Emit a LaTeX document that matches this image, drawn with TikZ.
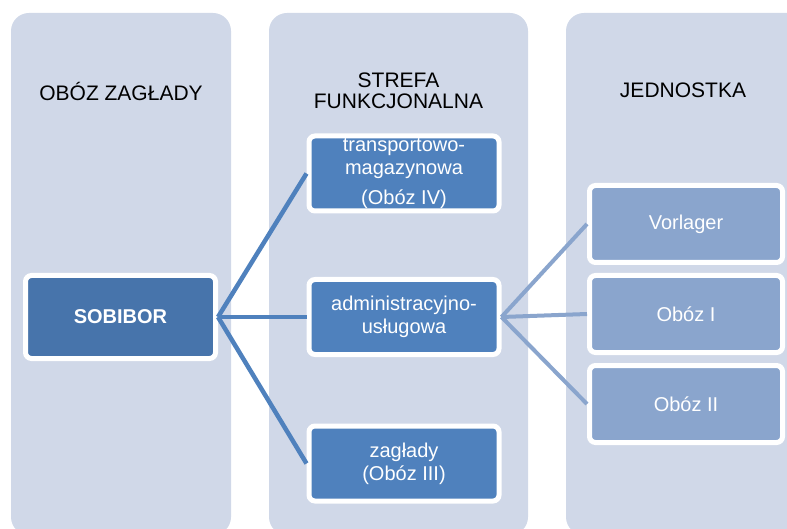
\documentclass[tikz,border=0pt]{standalone}
\usepackage{fontspec}
\setmainfont{Liberation Sans}
\usepackage{xcolor}
\usepackage{tikz}
\usetikzlibrary{positioning}

\definecolor{colbg}{HTML}{D0D8E8}
\definecolor{topblue}{HTML}{4774AB}
\definecolor{midblue}{HTML}{4F81BD}
\definecolor{lowblue}{HTML}{8AA5CD}

\begin{document}
\begin{tikzpicture}[
  x=1pt, y=-1pt,
  node distance=8pt,
  column/.style={fill=colbg, rounded corners=18pt},
  title/.style={align=center, text=black, font=\fontsize{21}{21}\selectfont},
  box/.style={rectangle, draw=white, line width=5pt, rounded corners=6pt,
              align=center, text=white, inner sep=0pt,
              font=\fontsize{20}{23}\selectfont},
  camp/.style={box, fill=topblue, minimum width=190pt, minimum height=83pt,
               font=\fontsize{20}{23}\selectfont\bfseries},
  zone/.style={box, fill=midblue, minimum width=190pt, minimum height=75pt},
  unit/.style={box, fill=lowblue, minimum width=193pt, minimum height=77pt},
  link/.style={line width=4.5pt, midblue},
  sublink/.style={line width=4pt, lowblue}
]

\clip (0,0) rectangle (787,529);

\fill[column] (11,13) rectangle (231,535);
\fill[column] (269,13) rectangle (528,535);
\fill[column] (566,13) rectangle (806,535);

\node[title] (tcamp) at (121,91)   {OBÓZ ZAGŁADY};
\node[title] (tzone) at (398.5,90.5) {STREFA\\FUNKCJONALNA};
\node[title] (tunit) at (683,90.5) {JEDNOSTKA};

\node[camp] (sob)   at (120.5,317) {SOBIBOR};
\node[zone] (trans) at (404,173.5) {transportowo-\\magazynowa\\[7pt](Obóz IV)};
\node[zone] (admin) at (404,317)   {administracyjno-\\usługowa};
\node[zone] (zagl)  at (404,463.5) {zagłady\\(Obóz III)};

\node[unit] (vorl) at (686,224) {Vorlager};
\node[unit, below=of vorl] (ob1) {Obóz I};
\node[unit, below=of ob1]  (ob2) {Obóz II};

\draw[link] (sob.east) -- (trans.west);
\draw[link] (sob.east) -- (admin.west);
\draw[link] (sob.east) -- (zagl.west);

\draw[sublink] (admin.east) -- (vorl.west);
\draw[sublink] (admin.east) -- (ob1.west);
\draw[sublink] (admin.east) -- (ob2.west);
\end{tikzpicture}
\end{document}
